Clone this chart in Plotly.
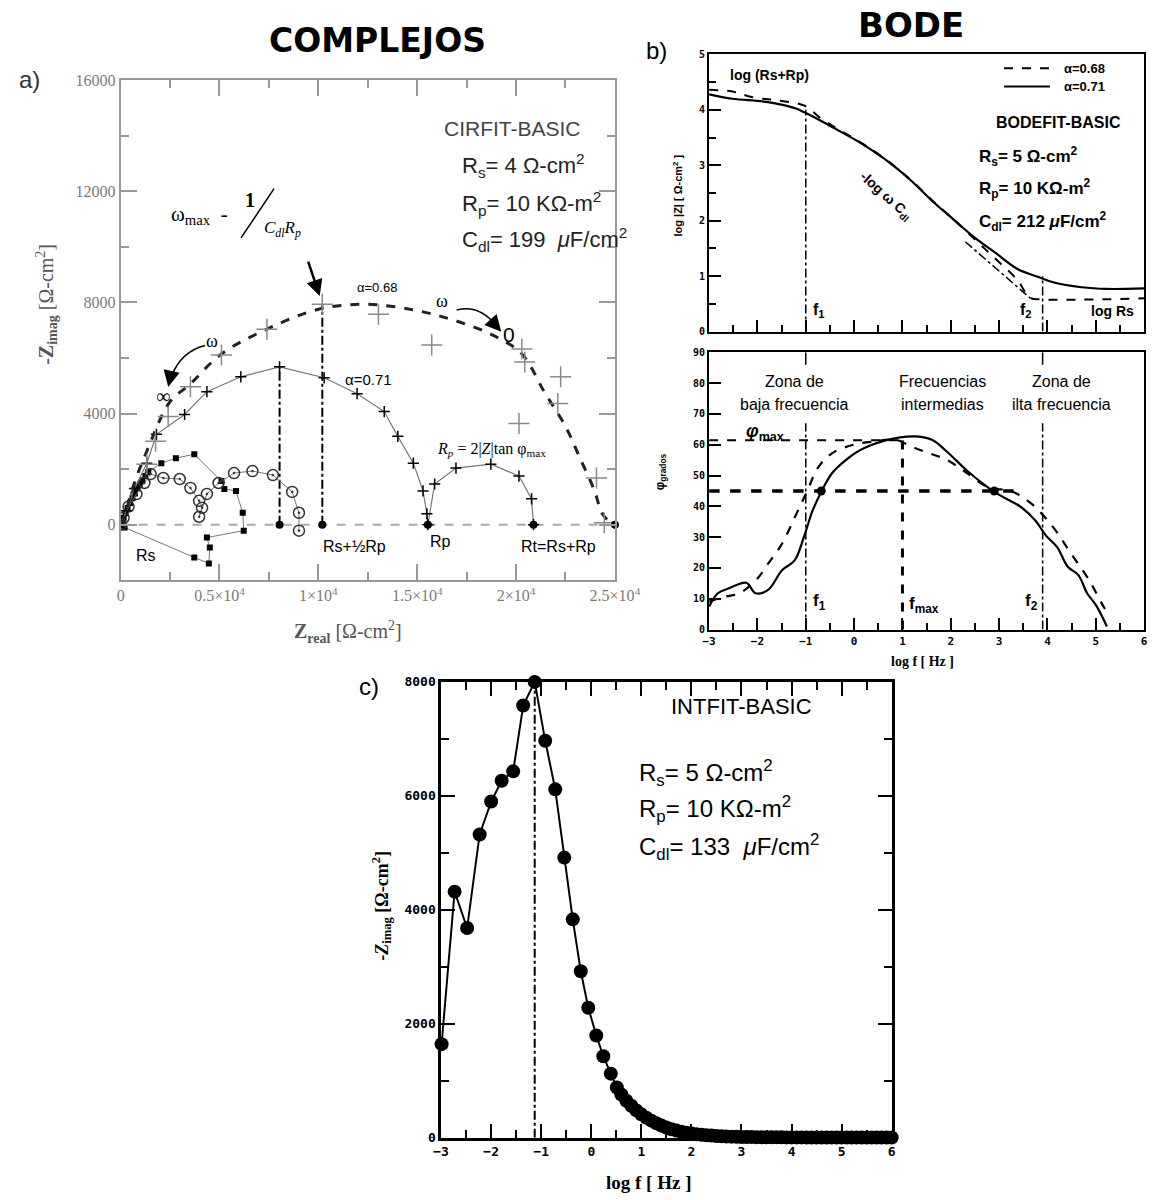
import plotly.graph_objects as go

W, H = 1175, 1200


def fx(p):
    return p / W


def fy(p):
    return 1 - p / H


# ---------------- a) Nyquist (COMPLEJOS) ----------------
fit068_re = [100, 600, 1324, 2500, 3480, 5098, 7400, 10000, 12451, 14902, 16863, 18824,
             20294, 21422, 22500, 23235, 23971, 24363, 24900]
fit068_im = [0, 1300, 2643, 4429, 5036, 6143, 7036, 7750, 7929, 7714, 7357, 6821,
             6143, 4786, 3536, 2393, 1214, 393, 0]

data068_re = [1324, 1765, 2402, 3529, 5098, 7400, 10200, 13039, 15735, 20294, 20441,
              20147, 22255, 22108, 24069, 24461]
data068_im = [2179, 3000, 3893, 4964, 6107, 7036, 7929, 7571, 6464, 6321, 5857,
              3643, 5321, 4357, 1679, 71]

fit071_re = [0, 300, 700, 1324, 1814, 3235, 4363, 6078, 8039, 10294, 11961, 13333, 14020,
             14804, 15294, 15490, 15539, 15882, 16961, 18725, 20147, 20784, 20882]
fit071_im = [0, 500, 1300, 2214, 3250, 3964, 4786, 5321, 5679, 5286, 4714, 4071, 3179,
             2214, 1214, 393, 0, 1464, 2036, 2179, 1750, 929, 0]

circ_re = [0, 150, 400, 800, 1200, 1520, 2157, 2990, 3530, 3970, 4118, 3970, 4363, 4951,
           5735, 6667, 7700, 8676, 9020, 9020]
circ_im = [0, 250, 650, 1100, 1500, 1821, 1679, 1643, 1321, 857, 607, 286, 1107, 1500,
           1857, 1929, 1786, 1179, 429, -214]

sq_re = [0, 80, 150, 250, 350, 480, 600, 720, 850, 980, 1100, 1250, 1400, 2059, 2794,
         3725, 5098, 5245, 5833, 6176, 6225, 4363, 4510, 4461, 3725, 200]
sq_im = [0, 120, 250, 420, 600, 780, 950, 1120, 1300, 1450, 1600, 1750, 1900, 2214, 2393,
         2536, 1571, 1286, 1214, 429, -214, -464, -821, -1393, -1179, -100]

ref_re = [8039, 10200, 15539, 20882, 25000]
ref_im = [0, 0, 0, 0, 0]

# ---------------- b) Bode ----------------
mag071_logf = [-3, -2.52, -1.78, -1.19, -1.04, -0.68, -0.31, 0.14, 0.65, 1.17, 1.61, 2.06,
               2.5, 2.94, 3.38, 3.83, 4.12, 4.71, 5.23, 6.0]
mag071_logz = [4.28, 4.2, 4.14, 4.02, 3.96, 3.8, 3.62, 3.4, 3.1, 2.73, 2.36, 2.02,
               1.69, 1.41, 1.13, 0.98, 0.89, 0.8, 0.77, 0.78]
mag068_logf = [-3, -2.52, -2.12, -1.6, -1.04, -0.68, -0.31, 0.14, 0.65, 1.17, 1.61, 2.06,
               2.5, 2.94, 3.38, 3.64, 3.9, 6.0]
mag068_logz = [4.36, 4.33, 4.23, 4.17, 4.08, 3.84, 3.64, 3.41, 3.11, 2.74, 2.37, 2.02,
               1.66, 1.30, 0.93, 0.61, 0.58, 0.60]

ph071_logf = [-3, -2.82, -2.59, -2.23, -2.04, -1.78, -1.49, -1.23, -1.04, -0.86, -0.68,
              -0.45, -0.16, 0.14, 0.58, 0.95, 1.28, 1.61, 1.91, 2.35, 2.9, 3.46, 3.75,
              3.97, 4.2, 4.42, 4.64, 4.82, 5.0, 5.23]
ph071_deg = [7.5, 11.8, 13.4, 15.2, 11.8, 12.9, 19.3, 22.5, 30.0, 38.6, 44.7, 50.9, 55.2,
             58.4, 61.1, 62.4, 62.7, 61.6, 57.9, 51.4, 44.7, 39.7, 35.4, 30.5, 26.8,
             20.4, 17.7, 11.8, 8.0, 1.0]
ph068_logf = [-3, -2.67, -2.37, -2.0, -1.78, -1.49, -1.23, -0.97, -0.75, -0.45, -0.01,
              0.43, 0.87, 1.17, 1.54, 1.91, 2.28, 2.79, 3.24, 3.68, 4.12, 4.49, 4.86,
              5.16, 5.3]
ph068_deg = [9.1, 10.7, 11.8, 16.6, 21.4, 27.9, 36.4, 45.0, 52.5, 57.3, 60.0, 61.1, 61.6,
             59.5, 57.3, 55.2, 51.4, 46.1, 45.0, 40.7, 33.2, 24.6, 16.1, 7.5, 4.3]

half_phase_logf = [-0.68, 2.9]
half_phase_deg = [45, 45]
f1_log, fmax_log, f2_log = -1.0, 1.0, 3.9
phi_max = 61.5
log_rs_rp, log_rs = 4.0, 1.0

# ---------------- c) Intercepción ----------------
int_logf = [-2.99, -2.73, -2.48, -2.23, -2.0, -1.79, -1.56, -1.36, -1.13, -0.92, -0.72,
            -0.54, -0.37, -0.21, -0.06, 0.10, 0.24, 0.39, 0.51,
            0.6, 0.7, 0.8, 0.9, 1.0, 1.1, 1.2, 1.3, 1.4, 1.5, 1.6, 1.7, 1.8, 1.9, 2.0,
            2.1, 2.2, 2.3, 2.4, 2.5, 2.6, 2.7, 2.8, 2.9, 3.0, 3.1, 3.2, 3.3, 3.4, 3.5,
            3.6, 3.7, 3.8, 3.9, 4.0, 4.1, 4.2, 4.3, 4.4, 4.5, 4.6, 4.7, 4.8, 4.9, 5.0,
            5.1, 5.2, 5.3, 5.4, 5.5, 5.6, 5.7, 5.8, 5.9, 6.0]
int_zimag = [1642, 4319, 3680, 5322, 5900, 6265, 6430, 7586, 8000, 6966, 6114,
             4916, 3833, 2921, 2281, 1795, 1430, 1125, 882,
             760, 650, 560, 480, 410, 350, 300, 255, 215, 180, 150, 125, 105, 88, 74,
             62, 52, 44, 37, 31, 26, 22, 19, 16, 14, 12, 11, 10, 9, 8,
             8, 7, 7, 6, 6, 6, 6, 5, 5, 5, 5, 5, 5, 5, 5,
             5, 5, 5, 5, 5, 5, 5, 5, 5, 5]
int_peak_logf = -1.13

fig = go.Figure()

# ---- a) traces
fig.add_trace(go.Scatter(x=[ref_re[0], ref_re[0]], y=[0, max(fit071_im)], mode="lines",
                         line=dict(color="black", width=2, dash="dashdot"),
                         xaxis="x", yaxis="y"))
fig.add_trace(go.Scatter(x=[ref_re[1], ref_re[1]], y=[0, data068_im[6]], mode="lines",
                         line=dict(color="black", width=2, dash="dashdot"),
                         xaxis="x", yaxis="y"))
fig.add_trace(go.Scatter(x=sq_re, y=sq_im, mode="lines+markers",
                         line=dict(color="#777", width=1),
                         marker=dict(symbol="square", size=6, color="black"),
                         xaxis="x", yaxis="y"))
fig.add_trace(go.Scatter(x=circ_re, y=circ_im, mode="lines+markers",
                         line=dict(color="#777", width=1),
                         marker=dict(symbol="circle-open-dot", size=11,
                                     color="#333", line=dict(width=1.5)),
                         xaxis="x", yaxis="y"))
fig.add_trace(go.Scatter(x=fit071_re, y=fit071_im, mode="lines+markers",
                         line=dict(color="#777", width=1.2),
                         marker=dict(symbol="cross-thin-open", size=8, color="black",
                                     line=dict(color="black", width=1.5)),
                         xaxis="x", yaxis="y"))
fig.add_trace(go.Scatter(x=fit068_re, y=fit068_im, mode="lines", line_shape="spline",
                         line=dict(color="#222", width=3, dash="dash"),
                         xaxis="x", yaxis="y"))
fig.add_trace(go.Scatter(x=data068_re, y=data068_im, mode="markers",
                         marker=dict(symbol="cross-thin-open", size=15, color="#8a8a8a",
                                     line=dict(color="#8a8a8a", width=1.5)),
                         xaxis="x", yaxis="y"))
fig.add_trace(go.Scatter(x=ref_re, y=ref_im, mode="markers", cliponaxis=False,
                         marker=dict(symbol="circle", size=8, color="black"),
                         xaxis="x", yaxis="y"))

# ---- b) magnitude
fig.add_trace(go.Scatter(x=mag068_logf, y=mag068_logz, mode="lines", line_shape="spline",
                         line=dict(color="black", width=2, dash="dash"),
                         xaxis="x2", yaxis="y2"))
fig.add_trace(go.Scatter(x=mag071_logf, y=mag071_logz, mode="lines", line_shape="spline",
                         line=dict(color="black", width=2.2),
                         xaxis="x2", yaxis="y2"))
# ---- b) phase
fig.add_trace(go.Scatter(x=ph068_logf, y=ph068_deg, mode="lines", line_shape="spline",
                         line=dict(color="black", width=2.2, dash="dash"),
                         xaxis="x3", yaxis="y3"))
fig.add_trace(go.Scatter(x=ph071_logf, y=ph071_deg, mode="lines", line_shape="spline",
                         line=dict(color="black", width=2.2),
                         xaxis="x3", yaxis="y3"))
fig.add_trace(go.Scatter(x=half_phase_logf, y=half_phase_deg, mode="markers",
                         marker=dict(size=9, color="black"),
                         xaxis="x3", yaxis="y3"))

# ---- c) imaginary part vs log f
fig.add_trace(go.Scatter(x=[int_peak_logf, int_peak_logf], y=[0, max(int_zimag)],
                         mode="lines", line=dict(color="black", width=2, dash="dashdot"),
                         xaxis="x4", yaxis="y4"))
fig.add_trace(go.Scatter(x=int_logf, y=int_zimag, mode="lines+markers", cliponaxis=False,
                         line=dict(color="black", width=2),
                         marker=dict(size=14, color="black"),
                         xaxis="x4", yaxis="y4"))

# ---------------- axes ----------------
gray_tick = dict(family="Liberation Serif", size=16, color="#7a7a7a")
bold_tick = dict(family="DejaVu Sans Mono", size=13, color="black", weight="bold")

common_gray = dict(showgrid=False, zeroline=False, ticks="inside", ticklen=16,
                   tickwidth=2, tickcolor="#999", linecolor="#999", linewidth=2,
                   mirror="ticks", tickfont=gray_tick)

layout = dict(
    width=W, height=H, margin=dict(l=0, r=0, t=0, b=0),
    paper_bgcolor="white", plot_bgcolor="white", showlegend=False,
    xaxis=dict(domain=[fx(116), fx(625)], range=[0, 25000], anchor="y",
               tickvals=[0, 5000, 10000, 15000, 20000, 25000],
               ticktext=["0", "0.5×10<sup>4</sup>", "1×10<sup>4</sup>",
                         "1.5×10<sup>4</sup>", "2×10<sup>4</sup>", "2.5×10<sup>4</sup>"],
               minor=dict(dtick=2500, ticklen=8, tickcolor="#999", ticks="inside"),
               **common_gray),
    yaxis=dict(domain=[fy(580), fy(73)], range=[-2000, 16000], anchor="x",
               tickvals=[0, 4000, 8000, 12000, 16000],
               minor=dict(dtick=2000, ticklen=8, tickcolor="#999", ticks="inside"),
               tickformat="d", **common_gray),
    xaxis2=dict(domain=[fx(722), fx(1170)], range=[-3, 6], anchor="y2", dtick=1,
                showticklabels=False, ticks="inside", ticklen=12, tickwidth=2,
                tickcolor="black", linecolor="black", linewidth=2, mirror=True,
                showgrid=False, zeroline=False,
                minor=dict(dtick=0.5, ticklen=7, tickcolor="black", ticks="inside")),
    yaxis2=dict(domain=[fy(328), fy(47)], range=[0, 5], anchor="x2", dtick=1,
                ticks="inside", ticklen=12, tickwidth=2, tickcolor="black",
                linecolor="black", linewidth=2, mirror=True, showgrid=False,
                zeroline=False, tickfont=dict(family="DejaVu Sans Mono", size=10,
                                              color="black", weight="bold"),
                minor=dict(dtick=0.5, ticklen=7, tickcolor="black", ticks="inside")),
    xaxis3=dict(domain=[fx(722), fx(1170)], range=[-3, 6], anchor="y3", dtick=1,
                ticks="inside", ticklen=12, tickwidth=2, tickcolor="black",
                linecolor="black", linewidth=2, mirror=True, showgrid=False,
                zeroline=False, tickfont=dict(family="DejaVu Sans Mono", size=11,
                                              color="black", weight="bold"),
                minor=dict(dtick=0.5, ticklen=7, tickcolor="black", ticks="inside")),
    yaxis3=dict(domain=[fy(630), fy(349)], range=[0, 90], anchor="x3", dtick=10,
                ticks="inside", ticklen=12, tickwidth=2, tickcolor="black",
                linecolor="black", linewidth=2, mirror=True, showgrid=False,
                zeroline=False, tickfont=dict(family="DejaVu Sans Mono", size=10,
                                              color="black", weight="bold")),
    xaxis4=dict(domain=[fx(446), fx(910)], range=[-3, 6], anchor="y4", dtick=1,
                ticks="inside", ticklen=14, tickwidth=2, tickcolor="black",
                linecolor="black", linewidth=2.5, mirror="ticks", showgrid=False,
                zeroline=False, tickfont=bold_tick,
                minor=dict(dtick=0.5, ticklen=8, tickcolor="black", ticks="inside")),
    yaxis4=dict(domain=[fy(1145), fy(683)], range=[0, 8000], anchor="x4", dtick=2000,
                ticks="inside", ticklen=14, tickwidth=2, tickcolor="black",
                linecolor="black", linewidth=2.5, mirror="ticks", showgrid=False,
                zeroline=False, tickfont=bold_tick,
                minor=dict(dtick=1000, ticklen=8, tickcolor="black", ticks="inside")),
)
fig.update_layout(**layout)

# ---------------- shapes ----------------
shapes = []
# a) real axis reference
shapes.append(dict(type="line", xref="x", yref="y", x0=0, x1=25000, y0=0, y1=0,
                   line=dict(color="#aaa", width=2, dash="dash"), layer="below"))
# a) slash of the omega_max fraction
shapes.append(dict(type="line", xref="paper", yref="paper", x0=fx(240), y0=fy(233),
                   x1=fx(274), y1=fy(183), line=dict(color="black", width=1.5)))
# a) curved arrows for the frequency direction
shapes.append(dict(type="path", xref="paper", yref="paper",
                   path=f"M {fx(462)},{fy(306)} Q {fx(485)},{fy(300)} {fx(503)},{fy(322)}",
                   line=dict(color="black", width=1.5)))
shapes.append(dict(type="path", xref="paper", yref="paper",
                   path=f"M {fx(203)},{fy(342)} Q {fx(178)},{fy(348)} {fx(168)},{fy(374)}",
                   line=dict(color="black", width=1.5)))
# b) magnitude guides
shapes.append(dict(type="line", xref="x2", yref="y2", x0=f1_log, x1=f1_log, y0=0,
                   y1=log_rs_rp, line=dict(color="black", width=1.5, dash="dashdot")))
shapes.append(dict(type="line", xref="x2", yref="y2", x0=f2_log, x1=f2_log, y0=0,
                   y1=log_rs, line=dict(color="black", width=1.5, dash="dashdot")))
shapes.append(dict(type="line", xref="x2", yref="y2", x0=2.3, x1=3.65, y0=1.62, y1=0.6,
                   line=dict(color="black", width=1.5, dash="dashdot")))
# b) legend samples
shapes.append(dict(type="line", xref="x2", yref="y2", x0=3.1, x1=4.05, y0=4.75, y1=4.75,
                   line=dict(color="black", width=2, dash="dash")))
shapes.append(dict(type="line", xref="x2", yref="y2", x0=3.1, x1=4.05, y0=4.42, y1=4.42,
                   line=dict(color="black", width=2)))
# b) phase guides (interrupted behind the zone labels)
for xv in (f1_log, f2_log):
    shapes.append(dict(type="line", xref="x3", yref="y3", x0=xv, x1=xv, y0=0, y1=67,
                       line=dict(color="black", width=1.5, dash="dashdot")))
    shapes.append(dict(type="line", xref="x3", yref="y3", x0=xv, x1=xv, y0=86, y1=90,
                       line=dict(color="black", width=1.5)))
shapes.append(dict(type="line", xref="x3", yref="y3", x0=fmax_log, x1=fmax_log, y0=0,
                   y1=63, line=dict(color="black", width=3, dash="dash")))
shapes.append(dict(type="line", xref="x3", yref="y3", x0=-3, x1=fmax_log, y0=phi_max,
                   y1=phi_max, line=dict(color="black", width=2, dash="dash")))
shapes.append(dict(type="line", xref="x3", yref="y3", x0=-3, x1=3.45, y0=45, y1=45,
                   line=dict(color="black", width=3.5, dash="dash")))
fig.update_layout(shapes=shapes)

# ---------------- annotations ----------------
anns = []


def txt(text, x, y, size=14, color="black", family="Liberation Sans", xanchor="center",
        yanchor="middle", angle=0, weight="normal", xref="paper", yref="paper"):
    if xref == "paper":
        x = fx(x)
    if yref == "paper":
        y = fy(y)
    anns.append(dict(text=text, x=x, y=y, xref=xref, yref=yref, showarrow=False,
                     xanchor=xanchor, yanchor=yanchor, textangle=angle,
                     font=dict(size=size, color=color, family=family, weight=weight)))


def arrow(x, y, ax, ay, size=1.2, width=2):
    anns.append(dict(text="", x=fx(x), y=fy(y), xref="paper", yref="paper",
                     showarrow=True, ax=ax, ay=ay, arrowhead=2, arrowsize=size,
                     arrowwidth=width, arrowcolor="black"))


# titles
txt("COMPLEJOS", 380, 33, size=33, family="DejaVu Sans", weight="bold")
txt("BODE", 930, 17, size=34, family="DejaVu Sans", weight="bold")

# a)
txt("a)", 22, 72, size=24, color="#333")
txt("CIRFIT-BASIC", 520, 122, size=21, color="#444")
txt("R<sub>s</sub>= 4 Ω-cm<sup>2</sup>", 465, 160, size=22, xanchor="left", color="#222")
txt("R<sub>p</sub>= 10 KΩ-m<sup>2</sup>", 465, 198, size=22, xanchor="left", color="#222")
txt("C<sub>dl</sub>= 199  <i>μ</i>F/cm<sup>2</sup>", 465, 235, size=22, xanchor="left",
    color="#222")
txt("ω<sub>max</sub>  -", 166, 210, size=21, family="Liberation Serif", xanchor="left")
txt("<b>1</b>", 249, 195, size=20, family="Liberation Serif")
txt("<i>C<sub>dl</sub>R<sub>p</sub></i>", 262, 224, size=17, family="Liberation Serif",
    xanchor="left")
arrow(321, 292, -12, -36, size=1.3, width=2.5)
txt("α=0.68", 357, 283, size=13, xanchor="left")
txt("ω", 447, 297, size=18, family="Liberation Serif")
arrow(508, 328, -8, -9, size=1.3, width=2.5)
txt("0", 516, 331, size=21)
txt("ω", 210, 337, size=18, family="Liberation Serif")
arrow(165, 384, 3, -14, size=1.3, width=2.5)
txt("∞", 160, 393, size=20, family="Liberation Serif")
txt("α=0.71", 345, 377, size=15, xanchor="left")
txt("<i>R<sub>p</sub></i> = 2|<i>Z</i>|tan φ<sub>max</sub>", 498, 447, size=16,
    family="Liberation Serif")
txt("Rs", 142, 555, size=16)
txt("Rs+½Rp", 357, 546, size=16)
txt("Rp", 445, 541, size=16)
txt("Rt=Rs+Rp", 567, 546, size=16)
txt("<b>Z</b><sub><b>real</b></sub> [Ω-cm<sup>2</sup>]", 350, 632, size=20,
    family="Liberation Serif", color="#555")
txt("-<b>Z</b><sub><b>imag</b></sub> [Ω-cm<sup>2</sup>]", 40, 300, size=20,
    family="Liberation Serif", color="#555", angle=-90)

# b) magnitude
txt("b)", 668, 43, size=24)
txt("log (Rs+Rp)", -1.75, 4.62, size=14, weight="bold", xref="x2", yref="y2")
txt("-log ω C<sub>dl</sub>", 0.65, 2.45, size=14, weight="bold", angle=42,
    xref="x2", yref="y2")
txt("α=0.68", 4.3, 4.75, size=13, weight="bold", xanchor="left", xref="x2", yref="y2")
txt("α=0.71", 4.3, 4.42, size=13, weight="bold", xanchor="left", xref="x2", yref="y2")
txt("BODEFIT-BASIC", 4.23, 3.77, size=16, weight="bold", xref="x2", yref="y2")
txt("R<sub>s</sub>= 5 Ω-cm<sup>2</sup>", 2.55, 3.16, size=17, weight="bold",
    xanchor="left", xref="x2", yref="y2")
txt("R<sub>p</sub>= 10 KΩ-m<sup>2</sup>", 2.55, 2.58, size=17, weight="bold",
    xanchor="left", xref="x2", yref="y2")
txt("C<sub>dl</sub>= 212 <i>μ</i>F/cm<sup>2</sup>", 2.55, 1.99, size=17, weight="bold",
    xanchor="left", xref="x2", yref="y2")
txt("f<sub>1</sub>", -0.72, 0.38, size=16, weight="bold", xref="x2", yref="y2")
txt("f<sub>2</sub>", 3.55, 0.38, size=16, weight="bold", xref="x2", yref="y2")
txt("log Rs", 5.35, 0.38, size=14, weight="bold", xref="x2", yref="y2")
txt("log |Z| [ Ω-cm<sup>2</sup> ]", 690, 190, size=11, weight="bold", angle=-90)

# b) phase
txt("Zona de", -1.23, 80.5, size=16, xref="x3", yref="y3")
txt("baja frecuencia", -1.23, 73, size=16, xref="x3", yref="y3")
txt("Frecuencias", 1.83, 80.5, size=16, xref="x3", yref="y3")
txt("intermedias", 1.83, 73, size=16, xref="x3", yref="y3")
txt("Zona de", 4.3, 80.5, size=16, xref="x3", yref="y3")
txt("ilta frecuencia", 4.3, 73, size=16, xref="x3", yref="y3")
txt("<i>φ</i><sub>max</sub>", -1.85, 64, size=18, weight="bold", xref="x3", yref="y3")
txt("f<sub>1</sub>", -0.72, 9, size=17, weight="bold", xref="x3", yref="y3")
txt("f<sub>max</sub>", 1.45, 8, size=17, weight="bold", xref="x3", yref="y3")
txt("f<sub>2</sub>", 3.66, 9, size=17, weight="bold", xref="x3", yref="y3")
txt("φ<sub>grados</sub>", 672, 470, size=12, weight="bold", angle=-90)
txt("log f [ Hz ]", 942, 662, size=14, weight="bold", family="Liberation Serif")

# c)
txt("c)", 372, 688, size=24)
txt("INTFIT-BASIC", 755, 708, size=22)
txt("R<sub>s</sub>= 5 Ω-cm<sup>2</sup>", 648, 775, size=24, xanchor="left")
txt("R<sub>p</sub>= 10 KΩ-m<sup>2</sup>", 648, 812, size=24, xanchor="left")
txt("C<sub>dl</sub>= 133  <i>μ</i>F/cm<sup>2</sup>", 648, 850, size=24, xanchor="left")
txt("-<i>Z</i><sub>imag</sub> [Ω-cm<sup>2</sup>]", 385, 910, size=18, weight="bold",
    family="Liberation Serif", angle=-90)
txt("log f [ Hz ]", 660, 1190, size=19, weight="bold", family="Liberation Serif")

fig.update_layout(annotations=anns)

fig.write_html("out.html")
